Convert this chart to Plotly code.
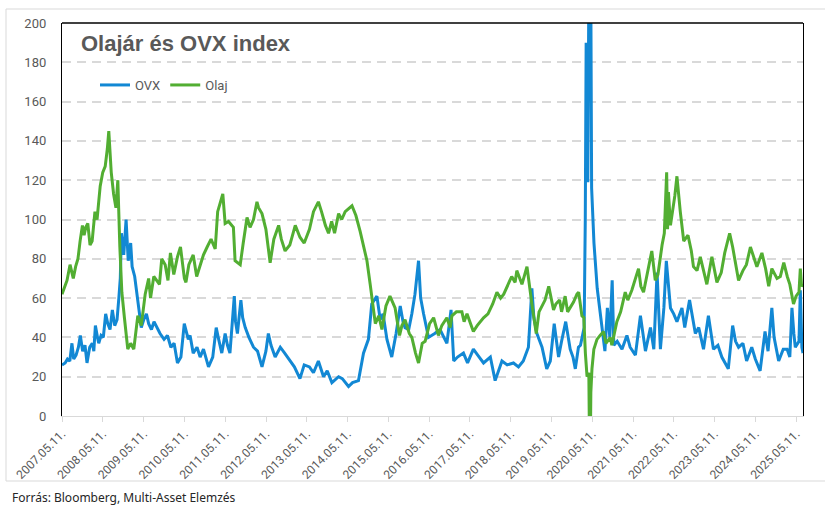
import plotly.graph_objects as go

# ---------------- data ----------------
ovx_dates = [
    "2007-05-11","2007-06-08","2007-06-29","2007-07-20","2007-08-08","2007-08-24","2007-09-14","2007-10-05",
    "2007-10-22","2007-11-12","2007-12-03","2007-12-21","2008-01-14","2008-02-06","2008-02-20","2008-03-05",
    "2008-03-24","2008-04-04","2008-04-25","2008-05-15","2008-06-05","2008-06-24","2008-07-14","2008-08-04",
    "2008-08-25","2008-09-15","2008-10-01","2008-10-14","2008-10-24","2008-11-14","2008-12-05","2008-12-24",
    "2009-01-15","2009-01-28","2009-02-20","2009-03-12","2009-04-01","2009-04-20","2009-05-12","2009-06-05",
    "2009-06-25","2009-07-20","2009-08-12","2009-09-05","2009-10-05","2009-11-10","2009-12-10","2010-01-10",
    "2010-02-08","2010-03-10","2010-04-10","2010-05-10","2010-06-15","2010-07-01","2010-07-29","2010-09-01",
    "2010-09-29","2010-10-29","2010-12-13","2011-01-20","2011-02-20","2011-03-10","2011-04-11","2011-05-11",
    "2011-06-01","2011-06-23","2011-08-01","2011-08-12","2011-08-29","2011-09-29","2011-10-15","2011-11-07",
    "2011-12-10","2012-01-20","2012-02-25","2012-04-05","2012-05-10","2012-06-01","2012-06-25","2012-08-01",
    "2012-09-16","2012-10-25","2012-12-14","2013-01-20","2013-03-11","2013-04-18","2013-06-04","2013-07-10",
    "2013-08-23","2013-10-08","2013-11-10","2013-12-22","2014-02-20","2014-03-25","2014-05-20","2014-06-25",
    "2014-08-17","2014-10-01","2014-11-14","2014-12-14","2015-01-29","2015-02-28","2015-03-25","2015-04-29",
    "2015-06-11","2015-07-20","2015-08-26","2015-09-20","2015-10-08","2015-11-10","2015-12-08","2016-01-05",
    "2016-02-06","2016-02-25","2016-03-22","2016-05-05","2016-06-30","2016-08-17","2016-09-20","2016-10-17",
    "2016-11-23","2016-12-17","2017-01-20","2017-03-14","2017-04-20","2017-06-11","2017-07-20","2017-09-10",
    "2017-11-10","2017-12-23","2018-02-22","2018-04-10","2018-06-05","2018-07-20","2018-09-01","2018-10-17",
    "2018-11-17","2018-12-05","2019-01-01","2019-02-16","2019-03-30","2019-05-01","2019-06-05","2019-07-14",
    "2019-08-10","2019-09-16","2019-10-26","2019-11-20","2019-12-11","2020-01-08","2020-01-26","2020-02-28",
    "2020-03-09","2020-03-17","2020-04-01","2020-04-20","2020-05-05","2020-05-26","2020-06-24","2020-08-08",
    "2020-09-01","2020-09-23","2020-10-15","2020-11-05","2020-11-20","2020-12-20","2021-02-01","2021-03-17",
    "2021-04-15","2021-06-01","2021-07-16","2021-08-30","2021-10-14","2021-11-13","2021-12-12","2022-01-11",
    "2022-02-11","2022-03-05","2022-04-11","2022-05-10","2022-06-08","2022-07-23","2022-08-17","2022-09-29",
    "2022-11-20","2022-12-20","2023-02-01","2023-03-17","2023-05-01","2023-06-10","2023-07-15","2023-09-11",
    "2023-10-20","2023-11-15","2023-12-12","2024-01-20","2024-02-22","2024-04-08","2024-05-10","2024-06-22",
    "2024-08-05","2024-09-01","2024-10-05","2024-10-25","2024-12-05","2025-01-15","2025-02-19","2025-03-15",
    "2025-04-03","2025-04-20","2025-05-03","2025-06-05","2025-06-17","2025-07-01","2025-07-11",
]
ovx_values = [
    26, 27, 29, 28, 37, 29, 31, 35,
    41, 33, 36, 27, 35, 37, 33, 46,
    40, 37, 41, 40, 52, 47, 44, 54,
    46, 49, 60, 70, 93, 82, 100, 79,
    88, 76, 71, 62, 56, 45, 49, 52,
    47, 44, 48, 45, 42, 39, 41, 35,
    37, 27, 30, 47, 39, 41, 32, 35,
    30, 34, 25, 30, 45, 40, 32, 42,
    36, 32, 61, 48, 42, 59, 50, 45,
    40, 35, 33, 25, 33, 42, 36, 30,
    35, 32, 28, 25, 19, 26, 25, 22,
    28, 20, 23, 17, 20, 19, 15, 17,
    18, 32, 39, 57, 61, 49, 52, 39,
    30, 42, 56, 48, 45, 44, 52, 62,
    79, 60, 52, 40, 42, 44, 40, 37,
    54, 28, 30, 32, 27, 34, 31, 27,
    30, 18, 28, 26, 27, 25, 28, 35,
    65, 50, 42, 35, 24, 28, 47, 30,
    38, 48, 34, 30, 24, 35, 36, 45,
    99, 190, 119, 325, 116, 88, 65, 43,
    33, 55, 40, 69, 36, 38, 34, 41,
    35, 31, 51, 33, 45, 34, 73, 34,
    55, 79, 55, 52, 48, 55, 45, 59,
    42, 45, 34, 51, 34, 36, 30, 24,
    46, 38, 35, 37, 28, 35, 29, 23,
    43, 33, 55, 40, 28, 34, 34, 30,
    55, 42, 35, 38, 64, 35, 32,
]

olaj_dates = [
    "2007-05-11","2007-06-05","2007-06-25","2007-07-22","2007-08-20","2007-09-10","2007-10-01","2007-10-20",
    "2007-11-10","2007-11-25","2007-12-10","2007-12-28","2008-01-17","2008-02-05","2008-03-01","2008-03-20",
    "2008-04-17","2008-05-10","2008-06-01","2008-06-20","2008-07-03","2008-07-25","2008-08-15","2008-09-05",
    "2008-09-22","2008-10-10","2008-10-28","2008-11-20","2008-12-20","2009-01-15","2009-02-12","2009-03-20",
    "2009-04-20","2009-05-25","2009-06-25","2009-07-12","2009-08-10","2009-09-30","2009-10-20","2009-11-20",
    "2009-12-15","2010-01-06","2010-02-05","2010-03-10","2010-04-06","2010-05-11","2010-05-25","2010-06-20",
    "2010-07-29","2010-08-29","2010-09-20","2010-10-29","2010-12-01","2011-01-05","2011-02-11","2011-03-05",
    "2011-04-20","2011-05-11","2011-06-10","2011-07-24","2011-08-08","2011-09-23","2011-10-20","2011-11-23",
    "2011-12-20","2012-01-20","2012-02-20","2012-03-05","2012-04-05","2012-05-10","2012-06-17","2012-07-20",
    "2012-09-01","2012-09-25","2012-10-29","2012-12-10","2013-01-28","2013-03-11","2013-04-18","2013-06-04",
    "2013-07-10","2013-08-23","2013-09-20","2013-10-25","2013-11-22","2013-12-20","2014-01-15","2014-02-20",
    "2014-03-20","2014-04-20","2014-06-20","2014-07-25","2014-09-01","2014-10-15","2014-11-01","2014-11-30",
    "2014-12-25","2015-01-15","2015-02-15","2015-03-15","2015-04-20","2015-05-26","2015-07-11","2015-08-20",
    "2015-09-10","2015-10-08","2015-11-15","2015-12-08","2016-01-10","2016-02-06","2016-03-10","2016-04-05",
    "2016-05-15","2016-06-20","2016-08-02","2016-09-01","2016-10-17","2016-11-15","2016-12-01","2017-01-10",
    "2017-02-28","2017-03-20","2017-04-15","2017-06-11","2017-07-15","2017-09-10","2017-10-20","2017-12-01",
    "2018-01-08","2018-02-10","2018-03-10","2018-04-20","2018-05-20","2018-06-20","2018-07-05","2018-08-20",
    "2018-10-04","2018-11-17","2018-12-26","2019-01-20","2019-02-16","2019-03-15","2019-04-17","2019-05-30",
    "2019-06-20","2019-07-23","2019-08-10","2019-09-11","2019-10-03","2019-10-26","2019-11-25","2019-12-26",
    "2020-01-10","2020-02-08","2020-02-25","2020-03-10","2020-03-25","2020-04-10","2020-04-20","2020-04-28",
    "2020-05-08","2020-05-25","2020-06-22","2020-07-20","2020-08-20","2020-09-10","2020-10-20","2020-11-02",
    "2020-12-17","2021-01-20","2021-03-02","2021-03-25","2021-04-30","2021-06-29","2021-07-20","2021-08-13",
    "2021-09-15","2021-10-26","2021-11-26","2021-12-20","2022-01-26","2022-02-15","2022-03-08","2022-03-16",
    "2022-03-24","2022-04-11","2022-05-20","2022-06-08","2022-07-08","2022-08-08","2022-09-15","2022-10-15",
    "2022-11-03","2022-12-05","2023-01-03","2023-03-03","2023-04-17","2023-06-01","2023-07-10","2023-08-10",
    "2023-09-23","2023-10-20","2023-12-12","2024-01-20","2024-02-20","2024-03-27","2024-05-24","2024-07-08",
    "2024-08-10","2024-09-07","2024-10-05","2024-11-20","2024-12-20","2025-01-20","2025-02-20","2025-03-15",
    "2025-04-17","2025-05-10","2025-06-05","2025-06-17","2025-06-28","2025-07-11",
]
olaj_values = [
    62, 66, 69, 77, 70, 76, 80, 89,
    97, 92, 96, 98, 87, 89, 104, 100,
    117, 124, 127, 136, 145, 124, 113, 106,
    120, 86, 63, 50, 34, 37, 34, 51,
    46, 62, 70, 60, 71, 67, 80, 77,
    69, 83, 72, 81, 86, 70, 68, 77,
    82, 71, 75, 82, 86, 90, 85, 104,
    113, 98, 99, 96, 79, 77, 88, 101,
    96, 100, 109, 106, 103, 95, 78, 90,
    97, 90, 84, 87, 97, 91, 88, 95,
    104, 109, 104, 97, 93, 99, 93, 103,
    100, 104, 107, 102, 94, 84, 79, 67,
    55, 47, 51, 44, 56, 61, 55, 41,
    46, 49, 42, 40, 32, 27, 37, 38,
    47, 50, 41, 46, 50, 45, 51, 53,
    53, 48, 52, 43, 46, 50, 52, 57,
    63, 60, 62, 67, 71, 68, 74, 67,
    76, 57, 42, 53, 56, 59, 66, 54,
    57, 59, 53, 61, 53, 55, 58, 62,
    63, 51, 50, 32, 20, 22, -37, 12,
    24, 34, 39, 41, 43, 37, 40, 36,
    48, 53, 63, 59, 64, 75, 66, 63,
    72, 84, 69, 72, 87, 93, 124, 95,
    114, 97, 112, 122, 104, 89, 92, 84,
    76, 74, 81, 67, 81, 68, 73, 83,
    93, 86, 69, 74, 77, 86, 76, 83,
    75, 66, 75, 70, 71, 78, 71, 67,
    57, 61, 63, 75, 66, 67,
]

tick_dates = ["%d-05-11" % y for y in range(2007, 2026)]
tick_labels = ["%d.05.11." % y for y in range(2007, 2026)]
y_ticks = list(range(0, 201, 20))

series_names = ["OVX", "Olaj"]
series_colors = ["#1288D4", "#52AE32"]

# ---------------- figure ----------------
fig = go.Figure()
fig.add_trace(go.Scatter(x=ovx_dates, y=ovx_values, mode="lines", name=series_names[0],
                         line=dict(color=series_colors[0], width=3)))
fig.add_trace(go.Scatter(x=olaj_dates, y=olaj_values, mode="lines", name=series_names[1],
                         line=dict(color=series_colors[1], width=3)))

L, R, T, B = 62, 22, 23, 108
W, H = 825, 524
pw, ph = W - L - R, H - T - B

def px(xp):
    return (xp - L) / pw

def py(yp):
    return (H - B - yp) / ph

font_main = "Liberation Sans Narrow, Roboto, Arial, sans-serif"

fig.update_layout(
    width=W, height=H,
    margin=dict(l=L, r=R, t=T, b=B, pad=0),
    paper_bgcolor="white", plot_bgcolor="white",
    font=dict(family=font_main, size=12, color="#595959"),
    showlegend=True,
    legend=dict(orientation="h", x=px(95), y=py(85), xanchor="left", yanchor="middle",
                font=dict(family=font_main, size=13, color="#595959"),
                bgcolor="rgba(0,0,0,0)", itemwidth=30, tracegroupgap=0),
    xaxis=dict(type="date", range=["2007-05-11", "2025-07-11"],
               tickmode="array", tickvals=tick_dates, ticktext=tick_labels,
               tickangle=-45, tickfont=dict(family=font_main, size=12, color="#595959"),
               showgrid=False, zeroline=False,
               showline=True, linecolor="#D9D9D9", linewidth=1.3,
               ticks="outside", ticklen=5, tickcolor="#D9D9D9", tickwidth=1),
    yaxis=dict(range=[0, 200], tickmode="array", tickvals=y_ticks,
               tickfont=dict(family=font_main, size=13, color="#595959"),
               showgrid=True, gridcolor="#D9D9D9", gridwidth=1.5, griddash="9px,6px",
               zeroline=False, showline=True, linecolor="black", linewidth=1.3, mirror=True,
               ticks="", ticklabelstandoff=12),
    shapes=[
        dict(type="line", xref="paper", yref="paper", x0=0, x1=1, y0=1, y1=1,
             line=dict(color="black", width=1.3)),
        dict(type="rect", xref="paper", yref="paper", x0=px(6), x1=px(827), y0=py(481), y1=py(9),
             line=dict(color="#D9D9D9", width=1), layer="below"),
    ],
    annotations=[
        dict(text="<b>Olajár és OVX index</b>", xref="paper", yref="paper", x=px(79), y=py(44),
             xanchor="left", yanchor="middle", showarrow=False,
             font=dict(family="Liberation Sans, Arial, sans-serif", size=22, color="#595959")),
        dict(text="Forrás: Bloomberg, Multi-Asset Elemzés", xref="paper", yref="paper",
             x=px(10), y=py(497), xanchor="left", yanchor="middle", showarrow=False,
             font=dict(family="Noto Sans, sans-serif", size=12, color="#262626")),
    ],
)

fig.write_html("out.html")
